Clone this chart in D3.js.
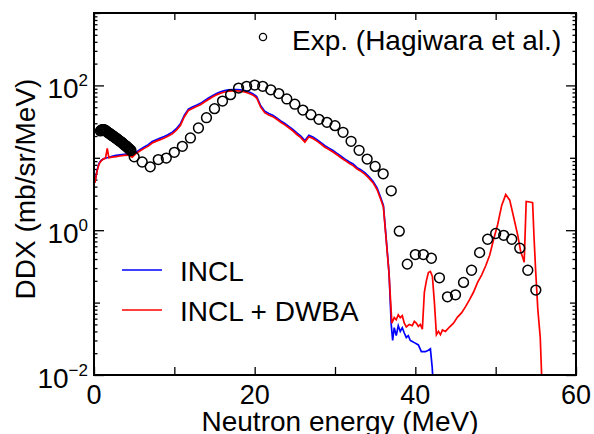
<!DOCTYPE html>
<html>
<head>
<meta charset="utf-8">
<script src="https://cdn.jsdelivr.net/npm/d3@7"></script>
<style>
  body { margin: 0; background: #fff; }
  text { font-family: "Liberation Sans", Arial, sans-serif; fill: #000; }
</style>
</head>
<body>
<div id="chart"></div>
<script>
// experimental points (Hagiwara et al.), E in MeV, DDX in mb/sr/MeV
var expE = [0.8, 0.9, 1.0, 1.1, 1.2, 1.3, 1.4, 1.5, 1.6, 1.7, 1.8, 1.9, 2.0, 2.1, 2.2, 2.3, 2.4, 2.5, 2.6, 2.7,
  2.8, 2.9, 3.0, 3.1, 3.2, 3.3, 3.4, 3.5, 3.6, 3.7, 3.8, 3.9, 4.0, 4.1, 4.2, 4.3, 4.4, 4.5, 4.6,
  5, 6, 7, 8, 9, 10, 11, 12, 13, 14, 15, 16, 17, 18, 19, 20, 21, 22, 23, 24, 25, 26, 27, 28, 29, 30,
  31, 32, 33, 34, 35, 36, 37, 38, 39, 40, 41, 42, 43, 44, 45, 46, 47, 48, 49, 50, 51, 52, 53, 54, 55];
var expV = [23.5, 24, 24.5, 24.5, 24.5, 24.2, 24, 23.5, 23, 22.5, 22, 21.8, 21.5, 21, 20.5, 20.2, 20, 19.5, 19, 18.8,
  18.5, 18.2, 17.8, 17.4, 17, 16.8, 16.5, 16.2, 15.8, 15.4, 15, 14.8, 14.5, 14.2, 13.8, 13.5, 13.2, 12.9, 12.6,
  10.3, 8.75, 7.5, 9.45, 9.9, 11.9, 14.4, 18.8, 25.8, 35.8, 47.7, 60.7, 74.5, 91.8, 97, 101, 97, 87, 77, 65, 55, 45.6, 39.4, 34, 30.9, 27.8,
  22.5, 16.9, 12.7, 9.6, 7.6, 6.0, 3.5, 0.97, 0.34, 0.46, 0.46, 0.41, 0.22, 0.12, 0.128, 0.19, 0.28, 0.49, 0.75, 0.90, 0.85, 0.75, 0.565, 0.28, 0.149];

// INCL histogram (bin left edge, value)
var inclE = [0, 0.25, 0.5, 0.75, 1.0, 1.5, 2.0, 2.5, 3.0, 3.5, 4.0, 4.5, 5.0, 5.5, 6.0, 6.5, 7.0, 7.5, 8.0, 8.5, 9.0, 9.5,
  10.0, 10.5, 11.0, 11.5, 12.0, 12.5, 13.0, 13.5, 14.0, 14.5, 15.0, 15.5, 16.0, 16.5, 17.0, 17.5, 18.0, 18.5, 19.0, 19.5,
  20.0, 20.5, 21.0, 21.5, 22.0, 22.5, 23.0, 23.5, 24.0, 24.5, 25.0, 25.5, 26.0, 26.5, 27.0, 27.5, 28.0, 28.5, 29.0, 29.5,
  30.0, 30.5, 31.0, 31.5, 32.0, 32.5, 33.0, 33.5, 34.0, 34.5, 35.0, 35.5, 35.85, 36.2, 36.55, 36.9, 37.1, 37.25, 37.5, 37.75,
  38.0, 38.25, 38.5, 38.75, 39.0, 39.25, 39.5, 39.75, 40.0, 40.25, 40.5, 41.0, 41.5, 41.75, 42.0, 42.2, 42.5];
var inclV = [4.7, 6.7, 8.4, 9.2, 9.8, 10.1, 10.5, 10.8, 11.0, 11.2, 11.3, 10.6, 12.0, 13.0, 14.1, 15.2, 16.8, 17.8, 18.7, 19.7, 21.0, 22.6,
  25.2, 29.4, 38.8, 47.0, 50.2, 53.3, 56.5, 61.7, 67.0, 72.2, 77.4, 81.5, 84.6, 86.6, 87.5, 87.5, 86.5, 84.5, 81.5, 77.0,
  70.0, 52.2, 44.0, 40.8, 38.7, 35.5, 32.4, 29.8, 27.2, 24.6, 22.0, 19.9, 17.3, 20.4, 19.4, 17.8, 16.2, 14.7, 13.6, 12.6,
  11.5, 10.5, 9.6, 8.8, 8.2, 7.3, 6.8, 6.2, 5.45, 4.7, 3.8, 2.85, 2.2, 0.76, 0.26, 0.05, 0.03, 0.045, 0.035, 0.048,
  0.04, 0.045, 0.038, 0.033, 0.035, 0.03, 0.029, 0.028, 0.027, 0.026, 0.021, 0.021, 0.022, 0.023, 0.0128, 0.004, 0.004];

// INCL + DWBA histogram
var dwbaE = [0, 0.25, 0.5, 0.75, 1.0, 1.25, 1.6, 1.7, 2.0, 2.5, 3.0, 3.5, 4.0, 4.5, 5.0, 5.5, 6.0, 6.5, 7.0, 7.5, 8.0, 8.5, 9.0, 9.5,
  10.0, 10.5, 11.0, 11.5, 12.0, 12.5, 13.0, 13.5, 14.0, 14.5, 15.0, 15.5, 16.0, 16.5, 17.0, 17.5, 18.0, 18.5, 19.0, 19.5,
  20.0, 20.5, 21.0, 21.5, 22.0, 22.5, 23.0, 23.5, 24.0, 24.5, 25.0, 25.5, 26.0, 26.5, 27.0, 27.5, 28.0, 28.5, 29.0, 29.5,
  30.0, 30.5, 31.0, 31.5, 32.0, 32.5, 33.0, 33.5, 34.0, 34.5, 35.0, 35.5, 35.85, 36.2, 36.55, 36.9, 37.25, 37.5, 37.75,
  38.0, 38.25, 38.5, 38.75, 39.0, 39.5, 39.75, 40.0, 40.25, 40.5, 40.75, 41.0, 41.25, 41.5, 41.75, 42.0, 42.25, 42.5, 42.75,
  43.0, 43.25, 43.5, 44.0, 44.5, 45.0, 45.5, 46.0, 46.5, 47.0, 47.5, 48.0, 48.5, 49.0, 49.5, 50.0, 50.5, 51.0, 51.5,
  52.0, 52.5, 53.0, 53.25, 53.5, 53.6, 54.0, 54.5, 54.7, 54.85, 55.1, 55.4, 55.7, 56];
var dwbaV = [4.6, 6.5, 8.2, 9.0, 9.6, 9.8, 13.5, 10.0, 10.2, 10.4, 10.6, 10.8, 10.9, 10.2, 11.5, 12.5, 13.5, 14.5, 16.0, 17.0, 17.8, 18.8, 20.0, 21.5,
  24.0, 28.0, 37.0, 45.0, 48.0, 51.0, 54.0, 59.0, 64.0, 69.0, 74.0, 78.0, 81.0, 83.0, 84.0, 84.0, 83.0, 81.0, 78.0, 74.0,
  67.0, 50.0, 42.0, 39.0, 37.0, 34.0, 31.0, 28.5, 26.0, 23.5, 21.0, 19.0, 16.5, 19.5, 18.5, 17.0, 15.5, 14.0, 13.0, 12.0,
  11.0, 10.0, 9.2, 8.4, 7.8, 7.0, 6.5, 5.9, 5.2, 4.5, 3.6, 2.7, 2.1, 0.73, 0.25, 0.052, 0.062, 0.058, 0.068,
  0.062, 0.066, 0.052, 0.046, 0.05, 0.048, 0.055, 0.052, 0.047, 0.05, 0.043, 0.14, 0.2, 0.26, 0.27, 0.23, 0.1, 0.036, 0.04,
  0.036, 0.042, 0.04, 0.046, 0.052, 0.063, 0.072, 0.088, 0.11, 0.14, 0.19, 0.24, 0.32, 0.45, 0.75, 1.2, 2.2, 3.1, 2.6,
  1.5, 0.85, 0.5, 0.42, 0.36, 2.5, 2.45, 2.4, 0.8, 0.28, 0.08, 0.033, 0.004, 0.004];

var xTicks = [0, 20, 40, 60];
var yLabelExps = [-2, 0, 2];

var svgWidth = 594;
var svgHeight = 434;
var margin = { top: 13, right: 18, bottom: 59, left: 94 };
var width = svgWidth - margin.left - margin.right;
var height = svgHeight - margin.top - margin.bottom;

var svg = d3.select("#chart")
  .append("svg")
  .attr("width", svgWidth)
  .attr("height", svgHeight);

var chartGroup = svg.append("g")
  .attr("transform", `translate(${margin.left}, ${margin.top})`);

var xScale = d3.scaleLinear().domain([0, 60]).range([0, width]);
var yScale = d3.scaleLog().domain([1e-2, 1e3]).range([height, 0]);

svg.append("defs").append("clipPath")
  .attr("id", "plotClip")
  .append("rect")
  .attr("width", width)
  .attr("height", height);

// tick values
var xTickVals = d3.range(0, 61, 10);
var minorY = yScale.ticks().filter(d => Math.abs(Math.log10(d) - Math.round(Math.log10(d))) > 1e-6);
var oddDecades = [1e-1, 1e1, 1e3];
var evenDecades = yLabelExps.map(e => Math.pow(10, e));

function addAxis(gen, transform) {
  var g = chartGroup.append("g").attr("transform", transform).call(gen);
  g.select(".domain").remove();
  g.selectAll("line").attr("stroke", "#000").attr("stroke-width", 1.3);
  return g;
}

// bottom / top ticks (inside)
addAxis(d3.axisBottom(xScale).tickValues(xTickVals).tickSize(-8).tickFormat(""), `translate(0, ${height})`);
addAxis(d3.axisTop(xScale).tickValues(xTickVals).tickSize(-7).tickFormat(""), "translate(0, 0)");

// left / right ticks (inside)
[["left", 0], ["right", width]].forEach(function(side) {
  var mk = side[0] === "left" ? d3.axisLeft : d3.axisRight;
  var tr = `translate(${side[1]}, 0)`;
  addAxis(mk(yScale).tickValues(minorY).tickSize(-3.5).tickFormat(""), tr);
  addAxis(mk(yScale).tickValues(oddDecades).tickSize(-6).tickFormat(""), tr);
  addAxis(mk(yScale).tickValues(evenDecades).tickSize(-10).tickFormat(""), tr);
});

// x tick labels
chartGroup.selectAll(".xlab")
  .data(xTicks)
  .enter()
  .append("text")
  .attr("x", d => xScale(d))
  .attr("y", height + 29)
  .attr("text-anchor", "middle")
  .attr("font-size", "27px")
  .text(d => d);

// y tick labels 10^n
var yLab = chartGroup.selectAll(".ylab")
  .data(yLabelExps)
  .enter()
  .append("text")
  .attr("x", -6)
  .attr("y", d => yScale(Math.pow(10, d)) + 13)
  .attr("text-anchor", "end")
  .attr("font-size", "28px");
yLab.append("tspan").text("10");
yLab.append("tspan")
  .attr("font-size", "17px")
  .attr("dy", -12)
  .text(d => d < 0 ? "\u2212" + Math.abs(d) : d);

// histograms, drawn through the bin centres
function binCentres(edges, vals) {
  return vals.map((v, i) => [i < edges.length - 1 ? (edges[i] + edges[i + 1]) / 2 : edges[i], v]);
}

var histLine = d3.line()
  .x(d => xScale(d[0]))
  .y(d => yScale(d[1]));

var lines = chartGroup.append("g").attr("clip-path", "url(#plotClip)");

lines.append("path")
  .datum([[0, inclV[0]]].concat(binCentres(inclE, inclV)))
  .attr("d", histLine)
  .attr("fill", "none")
  .attr("stroke", "#0000ff")
  .attr("stroke-width", 1.7);

lines.append("path")
  .datum([[0, dwbaV[0]]].concat(binCentres(dwbaE, dwbaV)))
  .attr("d", histLine)
  .attr("fill", "none")
  .attr("stroke", "#ff0000")
  .attr("stroke-width", 1.7);

// experimental circles
lines.selectAll("circle")
  .data(d3.zip(expE, expV))
  .enter()
  .append("circle")
  .attr("cx", d => xScale(d[0]))
  .attr("cy", d => yScale(d[1]))
  .attr("r", 4.9)
  .attr("fill", "none")
  .attr("stroke", "#000")
  .attr("stroke-width", 1.5);

// frame
chartGroup.append("rect")
  .attr("width", width)
  .attr("height", height)
  .attr("fill", "none")
  .attr("stroke", "#000")
  .attr("stroke-width", 2);

// legends
chartGroup.append("circle")
  .attr("cx", 263 - margin.left)
  .attr("cy", 37 - margin.top)
  .attr("r", 3.6)
  .attr("fill", "none")
  .attr("stroke", "#000")
  .attr("stroke-width", 1.3);
chartGroup.append("text")
  .attr("x", 292 - margin.left)
  .attr("y", 50 - margin.top)
  .attr("font-size", "28px")
  .text("Exp. (Hagiwara et al.)");

var legendItems = [["INCL", "#0000ff", 270], ["INCL + DWBA", "#ff0000", 310]];
legendItems.forEach(function(item) {
  chartGroup.append("line")
    .attr("x1", 122 - margin.left)
    .attr("x2", 162 - margin.left)
    .attr("y1", item[2] - margin.top)
    .attr("y2", item[2] - margin.top)
    .attr("stroke", item[1])
    .attr("stroke-width", 1.5);
  chartGroup.append("text")
    .attr("x", 180 - margin.left)
    .attr("y", item[2] + 11 - margin.top)
    .attr("font-size", "28px")
    .text(item[0]);
});

// axis titles
svg.append("text")
  .attr("x", 340)
  .attr("y", 431)
  .attr("text-anchor", "middle")
  .attr("font-size", "28px")
  .text("Neutron energy (MeV)");

svg.append("text")
  .attr("transform", "translate(35, 189) rotate(-90)")
  .attr("text-anchor", "middle")
  .attr("font-size", "28px")
  .text("DDX (mb/sr/MeV)");
</script>
</body>
</html>
